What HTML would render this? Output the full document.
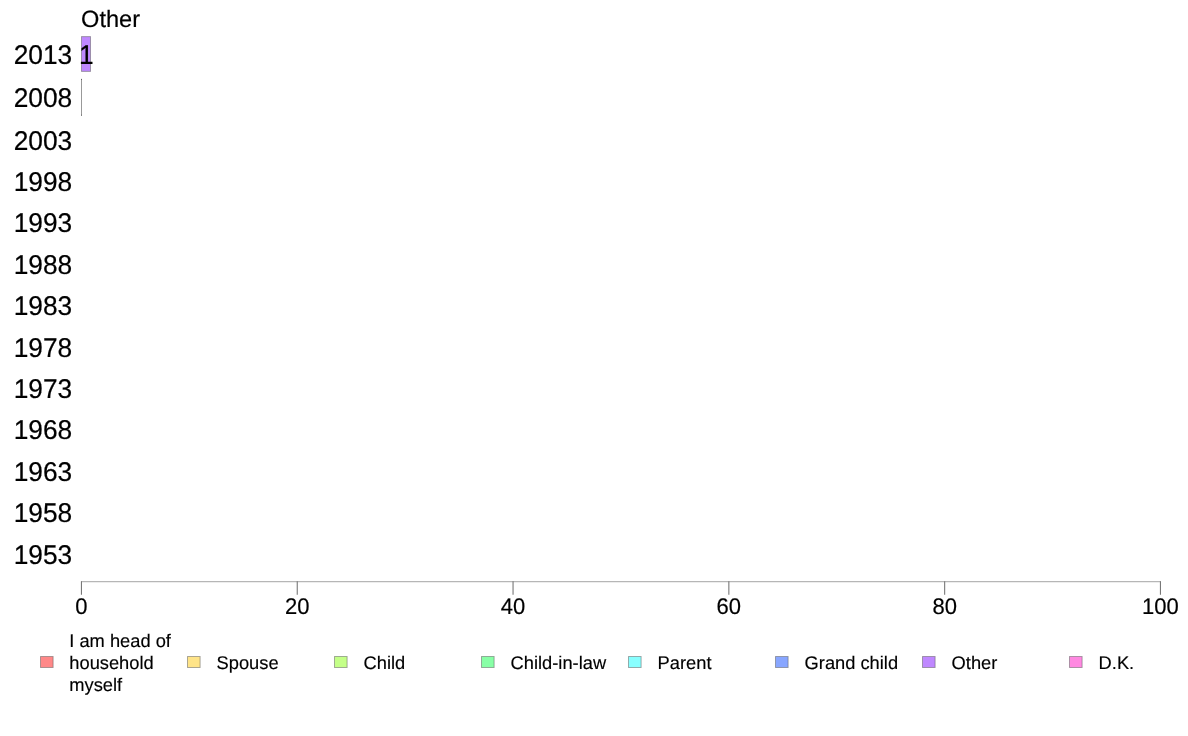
<!DOCTYPE html>
<html><head><meta charset="utf-8"><title>Other</title>
<style>
html,body{margin:0;padding:0;background:#fff;}
body{width:1188px;height:736px;overflow:hidden;}
svg{display:block;font-family:"Liberation Sans",sans-serif;}
text{stroke:#000;stroke-linejoin:round;text-rendering:geometricPrecision;}
</style></head><body>
<svg width="1188" height="736" viewBox="0 0 1188 736">
<rect x="0" y="0" width="1188" height="736" fill="#ffffff"/>
<text x="81.10" y="26.80" font-size="23.6" stroke-width="0.19" fill="#000">Other</text>
<text transform="translate(72.20 64.00) scale(1 1.03)" font-size="26.3" text-anchor="end" stroke-width="0.21" fill="#000">2013</text>
<text transform="translate(72.20 107.05) scale(1 1.03)" font-size="26.3" text-anchor="end" stroke-width="0.21" fill="#000">2008</text>
<text transform="translate(72.20 149.80) scale(1 1.03)" font-size="26.3" text-anchor="end" stroke-width="0.21" fill="#000">2003</text>
<text transform="translate(72.20 190.65) scale(1 1.03)" font-size="26.3" text-anchor="end" stroke-width="0.21" fill="#000">1998</text>
<text transform="translate(72.20 232.20) scale(1 1.03)" font-size="26.3" text-anchor="end" stroke-width="0.21" fill="#000">1993</text>
<text transform="translate(72.20 273.60) scale(1 1.03)" font-size="26.3" text-anchor="end" stroke-width="0.21" fill="#000">1988</text>
<text transform="translate(72.20 315.05) scale(1 1.03)" font-size="26.3" text-anchor="end" stroke-width="0.21" fill="#000">1983</text>
<text transform="translate(72.20 356.50) scale(1 1.03)" font-size="26.3" text-anchor="end" stroke-width="0.21" fill="#000">1978</text>
<text transform="translate(72.20 398.00) scale(1 1.03)" font-size="26.3" text-anchor="end" stroke-width="0.21" fill="#000">1973</text>
<text transform="translate(72.20 439.45) scale(1 1.03)" font-size="26.3" text-anchor="end" stroke-width="0.21" fill="#000">1968</text>
<text transform="translate(72.20 480.90) scale(1 1.03)" font-size="26.3" text-anchor="end" stroke-width="0.21" fill="#000">1963</text>
<text transform="translate(72.20 522.40) scale(1 1.03)" font-size="26.3" text-anchor="end" stroke-width="0.21" fill="#000">1958</text>
<text transform="translate(72.20 563.90) scale(1 1.03)" font-size="26.3" text-anchor="end" stroke-width="0.21" fill="#000">1953</text>
<rect x="81.5" y="36.6" width="9" height="34.8" fill="#bf88ff" stroke="#5a5a5a" stroke-opacity="0.5" stroke-width="1"/>
<text transform="translate(79.00 64.00) scale(1 1.03)" font-size="26.3" stroke-width="0.21" fill="#000">1</text>
<line x1="81.5" y1="78.9" x2="81.5" y2="115.7" stroke="#000" stroke-opacity="0.4" stroke-width="1"/>
<rect x="81" y="78.9" width="1" height="1" fill="#000" fill-opacity="0.4"/>
<rect x="81" y="114.7" width="1" height="1" fill="#000" fill-opacity="0.4"/>
<line x1="81" y1="581.6" x2="1161" y2="581.6" stroke="#b6b6b6" stroke-width="1.3"/>
<line x1="81.45" y1="581.2" x2="81.45" y2="594.7" stroke="#787878" stroke-width="1.1"/>
<text transform="translate(81.45 613.70) scale(1 1.03)" font-size="22.0" text-anchor="middle" stroke-width="0.18" fill="#000">0</text>
<line x1="297.25" y1="581.2" x2="297.25" y2="594.7" stroke="#787878" stroke-width="1.1"/>
<text transform="translate(297.25 613.70) scale(1 1.03)" font-size="22.0" text-anchor="middle" stroke-width="0.18" fill="#000">20</text>
<line x1="513.05" y1="581.2" x2="513.05" y2="594.7" stroke="#787878" stroke-width="1.1"/>
<text transform="translate(513.05 613.70) scale(1 1.03)" font-size="22.0" text-anchor="middle" stroke-width="0.18" fill="#000">40</text>
<line x1="728.85" y1="581.2" x2="728.85" y2="594.7" stroke="#787878" stroke-width="1.1"/>
<text transform="translate(728.85 613.70) scale(1 1.03)" font-size="22.0" text-anchor="middle" stroke-width="0.18" fill="#000">60</text>
<line x1="944.65" y1="581.2" x2="944.65" y2="594.7" stroke="#787878" stroke-width="1.1"/>
<text transform="translate(944.65 613.70) scale(1 1.03)" font-size="22.0" text-anchor="middle" stroke-width="0.18" fill="#000">80</text>
<line x1="1160.45" y1="581.2" x2="1160.45" y2="594.7" stroke="#787878" stroke-width="1.1"/>
<text transform="translate(1160.45 613.70) scale(1 1.03)" font-size="22.0" text-anchor="middle" stroke-width="0.18" fill="#000">100</text>
<rect x="40.5" y="656.5" width="12.6" height="11" fill="#ff8888" stroke="#5a5a5a" stroke-opacity="0.5" stroke-width="1"/>
<text x="69.30" y="646.60" font-size="18.3" stroke-width="0.15" fill="#000">I am head of</text>
<text x="69.30" y="668.65" font-size="18.3" stroke-width="0.15" fill="#000">household</text>
<text x="69.30" y="690.70" font-size="18.3" stroke-width="0.15" fill="#000">myself</text>
<rect x="187.5" y="656.5" width="12.6" height="11" fill="#ffe488" stroke="#5a5a5a" stroke-opacity="0.5" stroke-width="1"/>
<text x="216.60" y="668.60" font-size="18.3" stroke-width="0.15" fill="#000">Spouse</text>
<rect x="334.5" y="656.5" width="12.6" height="11" fill="#c4ff88" stroke="#5a5a5a" stroke-opacity="0.5" stroke-width="1"/>
<text x="363.60" y="668.60" font-size="18.3" stroke-width="0.15" fill="#000">Child</text>
<rect x="481.5" y="656.5" width="12.6" height="11" fill="#88ffa6" stroke="#5a5a5a" stroke-opacity="0.5" stroke-width="1"/>
<text x="510.60" y="668.60" font-size="18.3" stroke-width="0.15" fill="#000">Child-in-law</text>
<rect x="628.5" y="656.5" width="12.6" height="11" fill="#88ffff" stroke="#5a5a5a" stroke-opacity="0.5" stroke-width="1"/>
<text x="657.60" y="668.60" font-size="18.3" stroke-width="0.15" fill="#000">Parent</text>
<rect x="775.5" y="656.5" width="12.6" height="11" fill="#88a6ff" stroke="#5a5a5a" stroke-opacity="0.5" stroke-width="1"/>
<text x="804.60" y="668.60" font-size="18.3" stroke-width="0.15" fill="#000">Grand child</text>
<rect x="922.5" y="656.5" width="12.6" height="11" fill="#bf88ff" stroke="#5a5a5a" stroke-opacity="0.5" stroke-width="1"/>
<text x="951.60" y="668.60" font-size="18.3" stroke-width="0.15" fill="#000">Other</text>
<rect x="1069.5" y="656.5" width="12.6" height="11" fill="#ff88e1" stroke="#5a5a5a" stroke-opacity="0.5" stroke-width="1"/>
<text x="1098.60" y="668.60" font-size="18.3" stroke-width="0.15" fill="#000">D.K.</text>
</svg>
</body></html>
